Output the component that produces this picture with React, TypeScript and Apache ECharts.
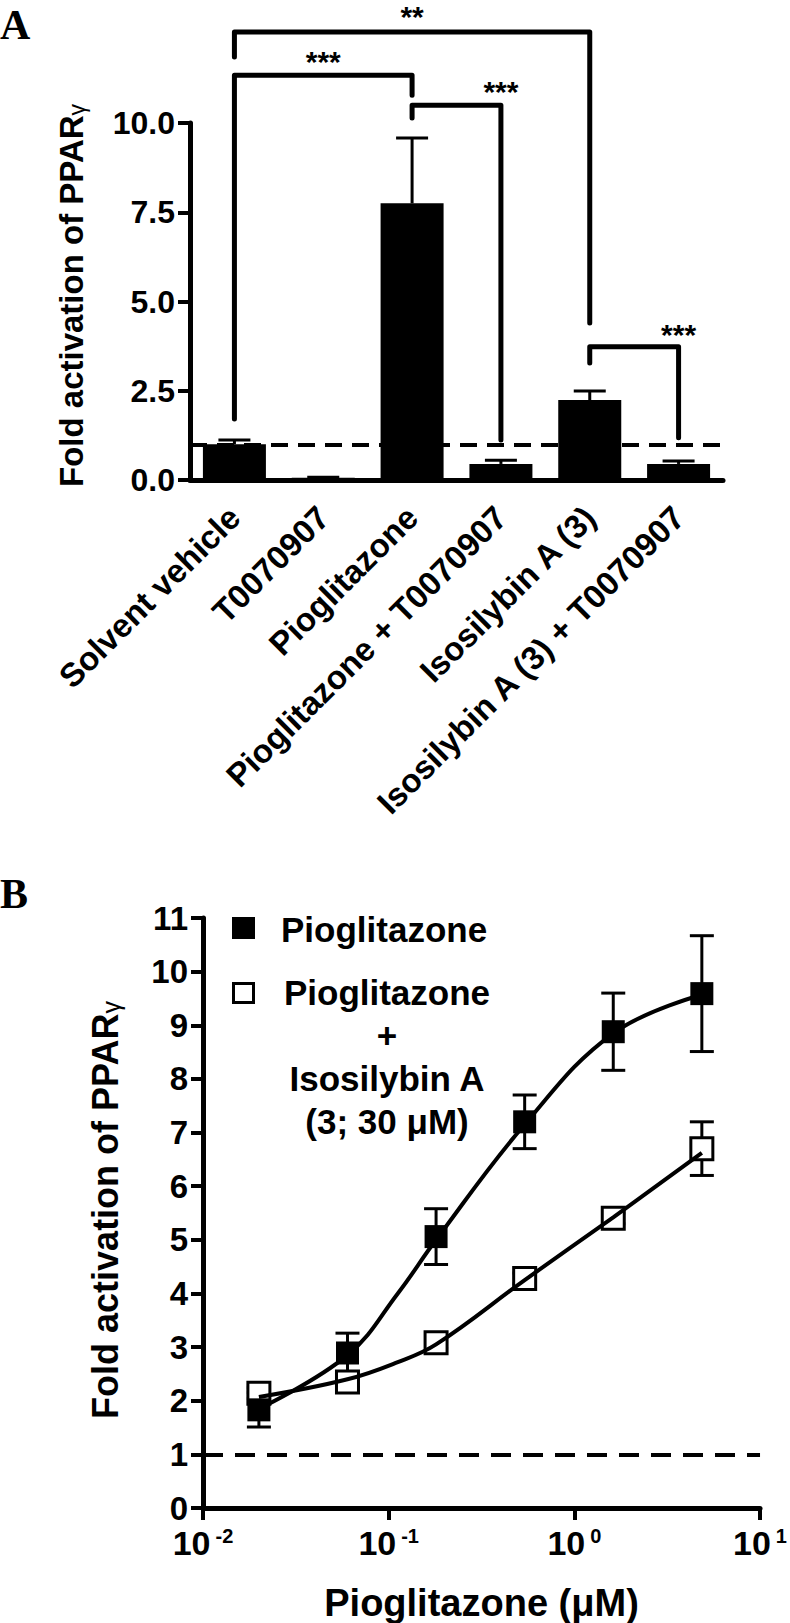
import React, { useEffect, useRef } from "react";
import * as echarts from "echarts";

// ---------- Panel A data ----------
const barCategories = [
  "Solvent vehicle",
  "T0070907",
  "Pioglitazone",
  "Pioglitazone + T0070907",
  "Isosilybin A (3)",
  "Isosilybin A (3) + T0070907",
];
const barMeans = [1.0, 0.06, 7.75, 0.45, 2.24, 0.45];
const barErrors = [0.12, 0.02, 1.83, 0.1, 0.25, 0.08];
const barAxisMin = 0;
const barAxisMax = 10;
const barAxisStep = 2.5;

// significance brackets (category indices, y-values in axis units)
const bracketSpans = [
  [0, 4],
  [0, 2],
  [2, 3],
  [4, 5],
];
const bracketTops = [12.55, 11.34, 10.5, 3.73];
const bracketLeftEnds = [11.85, 1.71, 10.14, 3.28];
const bracketRightEnds = [4.4, 10.78, 1.12, 1.18];
const bracketLabelLevels = [13.2, 11.96, 11.12, 4.29];
const bracketLabels = ["**", "***", "***", "***"];

// ---------- Panel B data ----------
const concentrations = [0.02, 0.06, 0.18, 0.54, 1.62, 4.86];
const pioMeans = [1.83, 2.89, 5.06, 7.2, 8.88, 9.59];
const pioErrors = [0.32, 0.37, 0.52, 0.5, 0.72, 1.08];
const comboMeans = [2.14, 2.35, 3.08, 4.28, 5.4, 6.7];
const comboErrors = [0.1, 0.1, 0.1, 0.1, 0.1, 0.5];
// fitted curves
const pioFitX = [0.02, 0.06, 0.112, 0.18, 0.54, 1.62, 4.86];
const pioFitY = [1.85, 2.85, 4.0, 5.0, 7.15, 8.85, 9.57];
const comboFitX = [0.02, 0.06, 0.112, 0.18, 0.54, 1.62, 4.86];
const comboFitY = [2.07, 2.4, 2.72, 3.05, 4.25, 5.42, 6.62];
const doseAxisMin = 0.01;
const doseAxisMax = 10;
const foldAxisMin = 0;
const foldAxisMax = 11;
const foldAxisStep = 1;
const baselineFold = 1;

const seriesNames = ["Pioglitazone", "Pioglitazone + Isosilybin A (3; 30 μM)"];

const FONT = "'Liberation Sans', Arial, Helvetica, sans-serif";
const SERIF = "'Liberation Serif', 'Times New Roman', serif";

export default function App() {
  const ref = useRef<HTMLDivElement>(null);

  useEffect(() => {
    if (!ref.current) return;
    const chart = echarts.init(ref.current, null, { renderer: "svg" });

    const axisLineStyle = { color: "#000", width: 5 };
    const tickStyle = { color: "#000", width: 4 };
    const labelBase = { color: "#000", fontWeight: "bold" as const, fontFamily: FONT };

    const barErrData = barMeans.map((m, i) => [i, m, barErrors[i]]);
    const bracketData = bracketSpans.map((s, i) => [
      s[0],
      s[1],
      bracketTops[i],
      bracketLeftEnds[i],
      bracketRightEnds[i],
      bracketLabelLevels[i],
    ]);
    const pioErrData = concentrations.map((c, i) => [c, pioMeans[i], pioErrors[i]]);
    const comboErrData = concentrations.map((c, i) => [c, comboMeans[i], comboErrors[i]]);

    const option: any = {
      animation: false,
      backgroundColor: "#fff",
      grid: [
        { left: 190, right: 67, top: 123, bottom: 1143 },
        { left: 203, right: 28, top: 918, bottom: 115 },
      ],
      xAxis: [
        {
          type: "category",
          gridIndex: 0,
          data: barCategories,
          boundaryGap: true,
          axisLine: { lineStyle: axisLineStyle },
          axisTick: { alignWithLabel: true, length: 12, lineStyle: tickStyle },
          axisLabel: { ...labelBase, interval: 0, rotate: 45, margin: 32, fontSize: 33 },
          splitLine: { show: false },
        },
        {
          type: "log",
          gridIndex: 1,
          logBase: 10,
          min: doseAxisMin,
          max: doseAxisMax,
          axisLine: { lineStyle: axisLineStyle },
          axisTick: { length: 12, lineStyle: tickStyle },
          minorTick: { show: false },
          splitLine: { show: false },
          axisLabel: {
            margin: 18,
            formatter: (v: number) => `{b|10}{s|${Math.round(Math.log10(v))}}`,
            rich: {
              b: { ...labelBase, fontSize: 34 },
              s: { ...labelBase, fontSize: 20, verticalAlign: "top", padding: [0, 0, 0, 5] },
            },
          },
          name: "Pioglitazone (μM)",
          nameLocation: "middle",
          nameGap: 76,
          nameTextStyle: { ...labelBase, fontSize: 38 },
        },
      ],
      yAxis: [
        {
          type: "value",
          gridIndex: 0,
          min: barAxisMin,
          max: barAxisMax,
          interval: barAxisStep,
          axisLine: { show: true, lineStyle: axisLineStyle },
          axisTick: { show: true, length: 12, lineStyle: tickStyle },
          splitLine: { show: false },
          axisLabel: { ...labelBase, fontSize: 32, margin: 15, formatter: (v: number) => v.toFixed(1) },
          name: "{a|Fold activation of PPAR}{g|γ}",
          nameLocation: "middle",
          nameRotate: 90,
          nameGap: 102,
          nameTextStyle: {
            padding: [0, 0, 0, 12],
            rich: {
              a: { ...labelBase, fontSize: 33 },
              g: { ...labelBase, fontWeight: "normal", fontSize: 23, verticalAlign: "bottom" },
            },
          },
        },
        {
          type: "value",
          gridIndex: 1,
          min: foldAxisMin,
          max: foldAxisMax,
          interval: foldAxisStep,
          axisLine: { show: true, lineStyle: axisLineStyle },
          axisTick: { show: true, length: 12, lineStyle: tickStyle },
          splitLine: { show: false },
          axisLabel: { ...labelBase, fontSize: 33, margin: 15 },
          name: "{a|Fold activation of PPAR}{g|γ}",
          nameLocation: "middle",
          nameRotate: 90,
          nameGap: 80,
          nameTextStyle: {
            padding: [0, 0, 0, 6],
            rich: {
              a: { ...labelBase, fontSize: 36 },
              g: { ...labelBase, fontWeight: "normal", fontSize: 25, verticalAlign: "bottom" },
            },
          },
        },
      ],
      series: [
        {
          name: "Fold activation",
          type: "bar",
          xAxisIndex: 0,
          yAxisIndex: 0,
          data: barMeans,
          barWidth: 63,
          z: 2,
          itemStyle: { color: "#000" },
          markLine: {
            z: 1,
            silent: true,
            symbol: "none",
            label: { show: false },
            lineStyle: { color: "#000", width: 4, type: [17, 10] },
            data: [{ yAxis: baselineFold }],
          },
        },
        {
          name: "A error",
          type: "custom",
          xAxisIndex: 0,
          yAxisIndex: 0,
          z: 3,
          data: barErrData,
          renderItem: (params: any, api: any) => {
            const x = api.value(0);
            const m = api.value(1);
            const e = api.value(2);
            const p0 = api.coord([x, m]);
            const p1 = api.coord([x, m + e]);
            const half = 16;
            const st = { stroke: "#000", lineWidth: 3 };
            return {
              type: "group",
              children: [
                { type: "line", shape: { x1: p0[0], y1: p0[1], x2: p1[0], y2: p1[1] }, style: st },
                { type: "line", shape: { x1: p1[0] - half, y1: p1[1], x2: p1[0] + half, y2: p1[1] }, style: st },
              ],
            };
          },
        },
        {
          name: "Significance",
          type: "custom",
          xAxisIndex: 0,
          yAxisIndex: 0,
          z: 4,
          clip: false,
          data: bracketData,
          renderItem: (params: any, api: any) => {
            const l = api.value(0);
            const r = api.value(1);
            const top = api.value(2);
            const le = api.value(3);
            const re = api.value(4);
            const lab = api.value(5);
            const a = api.coord([l, le]);
            const b = api.coord([l, top]);
            const c = api.coord([r, top]);
            const d = api.coord([r, re]);
            const t = api.coord([(l + r) / 2, lab]);
            return {
              type: "group",
              children: [
                {
                  type: "polyline",
                  shape: { points: [a, b, c, d] },
                  style: { stroke: "#000", lineWidth: 5, fill: "none", lineJoin: "round", lineCap: "round" },
                },
                {
                  type: "text",
                  style: {
                    text: bracketLabels[params.dataIndex],
                    x: t[0],
                    y: t[1] + 8,
                    textAlign: "center",
                    textVerticalAlign: "middle",
                    fontSize: 30,
                    fontWeight: "bold",
                    fontFamily: FONT,
                    fill: "#000",
                  },
                },
              ],
            };
          },
        },
        {
          name: "B error",
          type: "custom",
          xAxisIndex: 1,
          yAxisIndex: 1,
          z: 2,
          data: [...comboErrData, ...pioErrData],
          renderItem: (params: any, api: any) => {
            const x = api.value(0);
            const m = api.value(1);
            const e = api.value(2);
            const p0 = api.coord([x, m - e]);
            const p1 = api.coord([x, m + e]);
            const half = 12;
            const st = { stroke: "#000", lineWidth: 3 };
            return {
              type: "group",
              children: [
                { type: "line", shape: { x1: p0[0], y1: p0[1], x2: p1[0], y2: p1[1] }, style: st },
                { type: "line", shape: { x1: p1[0] - half, y1: p1[1], x2: p1[0] + half, y2: p1[1] }, style: st },
                { type: "line", shape: { x1: p0[0] - half, y1: p0[1], x2: p0[0] + half, y2: p0[1] }, style: st },
              ],
            };
          },
        },
        {
          name: seriesNames[1],
          type: "scatter",
          xAxisIndex: 1,
          yAxisIndex: 1,
          z: 3,
          symbol: "rect",
          symbolSize: 22,
          itemStyle: { color: "#fff", borderColor: "#000", borderWidth: 3, opacity: 1 },
          data: concentrations.map((c, i) => [c, comboMeans[i]]),
        },
        {
          name: seriesNames[0],
          type: "scatter",
          xAxisIndex: 1,
          yAxisIndex: 1,
          z: 4,
          symbol: "rect",
          symbolSize: 23,
          itemStyle: { color: "#000", opacity: 1 },
          data: concentrations.map((c, i) => [c, pioMeans[i]]),
        },
        {
          name: "Pioglitazone fit",
          type: "line",
          xAxisIndex: 1,
          yAxisIndex: 1,
          z: 5,
          smooth: 0.4,
          showSymbol: false,
          lineStyle: { color: "#000", width: 4 },
          data: pioFitX.map((c, i) => [c, pioFitY[i]]),
          markLine: {
            silent: true,
            symbol: "none",
            label: { show: false },
            lineStyle: { color: "#000", width: 4, type: [20, 12] },
            data: [{ yAxis: baselineFold }],
          },
        },
        {
          name: "Combination fit",
          type: "line",
          xAxisIndex: 1,
          yAxisIndex: 1,
          z: 5,
          smooth: 0.4,
          showSymbol: false,
          lineStyle: { color: "#000", width: 4 },
          data: comboFitX.map((c, i) => [c, comboFitY[i]]),
        },
      ],
      graphic: [
        {
          type: "text",
          left: 0,
          top: 4,
          style: { text: "A", font: `bold 42px ${SERIF}`, fill: "#000" },
        },
        {
          type: "text",
          left: 0,
          top: 873,
          style: { text: "B", font: `bold 42px ${SERIF}`, fill: "#000" },
        },
        {
          type: "rect",
          shape: { x: 232, y: 917, width: 23, height: 22 },
          style: { fill: "#000" },
        },
        {
          type: "rect",
          shape: { x: 233.5, y: 983.5, width: 20, height: 19 },
          style: { fill: "#fff", stroke: "#000", lineWidth: 3 },
        },
        {
          type: "text",
          x: 281,
          y: 929,
          style: {
            text: seriesNames[0],
            fontSize: 35,
            fontWeight: "bold",
            fontFamily: FONT,
            fill: "#000",
            textVerticalAlign: "middle",
          },
        },
        {
          type: "text",
          x: 387,
          y: 971,
          style: {
            text: "Pioglitazone\n+\nIsosilybin A\n(3; 30 μM)",
            fontSize: 35,
            fontWeight: "bold",
            fontFamily: FONT,
            fill: "#000",
            lineHeight: 43,
            textAlign: "center",
            textVerticalAlign: "top",
          },
        },
      ],
    };

    chart.setOption(option);
    return () => chart.dispose();
  }, []);

  return (
    <div
      ref={ref}
      style={{ position: "absolute", left: 0, top: 0, width: 790, height: 1623, background: "#fff" }}
    />
  );
}
